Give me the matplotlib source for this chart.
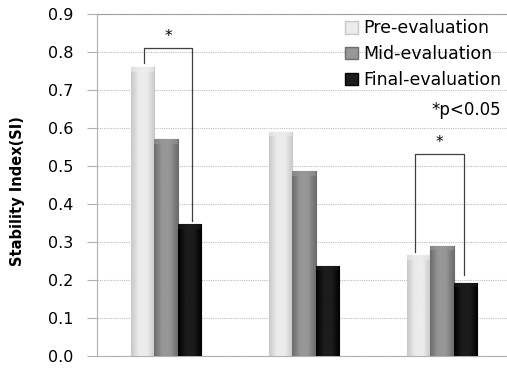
import numpy as np
import matplotlib
matplotlib.use("Agg")
import matplotlib.pyplot as plt
from matplotlib.colors import LinearSegmentedColormap
from matplotlib.patches import Patch

groups = ["A", "B", "C"]
series = ["Pre-evaluation", "Mid-evaluation", "Final-evaluation"]
pre = [0.76, 0.59, 0.265]
mid = [0.57, 0.487, 0.29]
final = [0.347, 0.238, 0.193]

# (dark edge, light centre) per series
shades = [("#c8c8c8", "#ececec"), ("#6c6c6c", "#979797"), ("#000000", "#1c1c1c")]

fig = plt.figure(figsize=(5.07, 3.68), dpi=100)
ax = fig.add_axes([97 / 507, 12 / 368, 410 / 507, 342 / 368])

x = np.arange(len(groups))
w = 0.1667


def gradient_bar(ax, xc, h, w, dark, light):
    bars = ax.bar(xc, h, w, color=light, edgecolor=dark, linewidth=0.8, zorder=3)
    cmap = LinearSegmentedColormap.from_list("g", [dark, light, light, dark])
    grad = np.linspace(0, 1, 64).reshape(1, -1)
    for b in bars:
        im = ax.imshow(grad, extent=[b.get_x(), b.get_x() + b.get_width(), 0, b.get_height()],
                       aspect="auto", cmap=cmap, zorder=3.5, interpolation="bicubic")
        im.set_clip_path(b)
        # small bevel at the top of the bar
        ax.fill_between([b.get_x(), b.get_x() + b.get_width()], b.get_height() - 0.012,
                        b.get_height(), color=light, alpha=0.6, zorder=3.6, linewidth=0)
    return bars


for i, vals in enumerate([pre, mid, final]):
    gradient_bar(ax, x + (i - 1) * w, vals, w, *shades[i])

ax.set_xlim(-0.5, 2.471)
ax.set_ylim(0, 0.9)
ax.set_yticks(np.arange(0, 0.91, 0.1))
ax.set_yticklabels([f"{v:.1f}" for v in np.arange(0, 0.91, 0.1)], fontsize=11.5)
ax.set_xticks([])
ax.yaxis.grid(True, color="#bdbdbd", linestyle=(0, (1, 1)), linewidth=0.8, zorder=0)
ax.set_axisbelow(True)
ax.spines["right"].set_visible(False)
ax.spines["top"].set_color("#a0a0a0")
ax.spines["left"].set_color("#b0b0b0")
ax.spines["bottom"].set_color("#b0b0b0")
ax.tick_params(axis="y", length=7, color="#b0b0b0", pad=10)
ax.set_ylabel("Stability Index(SI)", fontsize=10.5, fontweight="bold")
ax.yaxis.set_label_coords(-0.176, 0.482)

# significance brackets
def bracket(x0, x1, y0, y1, top):
    ax.plot([x0, x0, x1, x1], [y0, top, top, y1], color="#404040", lw=0.9, zorder=5)
    ax.text((x0 + x1) / 2, top + 0.01, "*", ha="center", va="bottom", fontsize=11)

bracket(x[0] - w + 0.01, x[0] + w + 0.02, 0.77, 0.355, 0.81)
bracket(x[2] - w - 0.03, x[2] + w - 0.01, 0.275, 0.212, 0.532)

handles = [Patch(facecolor=shades[i][1], edgecolor=shades[i][0]) for i in range(3)]
leg = ax.legend(handles, series, loc="upper right", bbox_to_anchor=(1.025, 1.03), frameon=False,
                fontsize=12.5, handlelength=0.75, handleheight=0.75, handletextpad=0.3,
                labelspacing=0.45)
ax.text(0.985, 0.718, "*p<0.05", transform=ax.transAxes, ha="right", va="center", fontsize=12)

fig.savefig("out.png", dpi=100)
